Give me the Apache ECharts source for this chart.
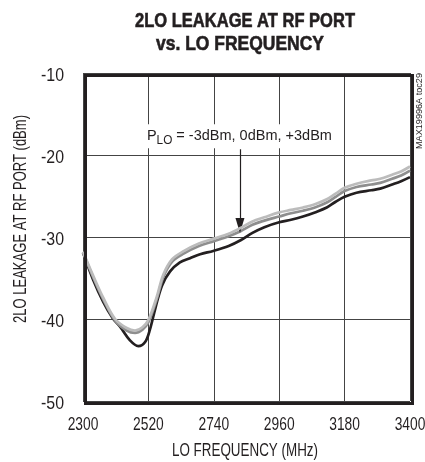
<!DOCTYPE html>
<html>
<head>
<meta charset="utf-8">
<script src="https://cdn.jsdelivr.net/npm/echarts@6/dist/echarts.min.js"></script>
<style>
html,body{margin:0;padding:0;background:#fff;}
#c{width:425px;height:462px;}
</style>
</head>
<body>
<div id="c"></div>
<script>
// ---- data ----
const xTicks = [2300, 2520, 2740, 2960, 3180, 3400];
const yTicks = [-50, -40, -30, -20, -10];

const freqBlack = [2300,2334,2368,2400,2424,2458,2486,2509,2525,2544,2566,2593,2626,2660,2694,2738,2790,2830,2870,2910,2960,3000,3040,3080,3120,3150,3180,3220,3270,3300,3340,3370,3400];
const leakBlack = [-31.9,-35.2,-37.9,-39.9,-40.9,-42.6,-43.3,-42.8,-41.3,-38.6,-35.9,-34.2,-33.1,-32.6,-32.1,-31.7,-31.1,-30.4,-29.5,-28.8,-28.2,-27.9,-27.5,-27.0,-26.4,-25.7,-25.1,-24.6,-24.3,-24.1,-23.6,-23.2,-22.7];

const freqGray = [2300,2334,2368,2408,2447,2475,2500,2520,2548,2570,2600,2640,2690,2740,2790,2830,2870,2910,2960,3000,3040,3080,3120,3150,3180,3220,3270,3300,3340,3370,3400];
const leakDark = [-31.9,-34.9,-37.6,-40.2,-41.4,-41.7,-41.3,-40.4,-37.6,-34.9,-33.0,-32.0,-31.1,-30.5,-29.9,-29.3,-28.5,-28.0,-27.5,-27.1,-26.8,-26.4,-25.8,-25.1,-24.4,-23.9,-23.6,-23.4,-22.9,-22.5,-21.9];
const leakLight = [-31.8,-34.7,-37.4,-40.0,-41.1,-41.4,-41.0,-40.1,-37.3,-34.6,-32.7,-31.7,-30.8,-30.2,-29.6,-28.9,-28.1,-27.6,-27.0,-26.7,-26.4,-26.0,-25.4,-24.7,-24.0,-23.5,-23.1,-22.9,-22.4,-22.0,-21.4];

const arrowFreq = 2828;
const arrowFrom = -19.3;
const arrowTo = -28.6;
const noteAnchor = [2515, -17.7];   // left / middle of the P_LO note
// ---------------------------------------

const FAMILY = "'Liberation Sans', Arial, sans-serif";
const INK = '#231f20';
const zip = (xs, ys) => xs.map((x, i) => [x, ys[i]]);

const mctx = document.createElement('canvas').getContext('2d');
function tw(text, size, weight) {
  mctx.font = (weight || 'normal') + ' ' + size + 'px ' + FAMILY;
  return mctx.measureText(text).width;
}
function tStyle(text, size, weight, extra) {
  return Object.assign({text: text, fontSize: size, fontFamily: FAMILY,
    fontWeight: weight || 'normal', fill: INK, verticalAlign: 'middle'}, extra || {});
}
// condensed-looking text: scale measured width to target width
function cText(text, x, y, size, target, opts) {
  opts = opts || {};
  const w = tw(text, size, opts.weight);
  const extra = {align: opts.align || 'center'};
  if (opts.stroke) { extra.stroke = INK; extra.lineWidth = opts.stroke; }
  return {
    type: 'text', x: x, y: y, rotation: opts.rotation || 0,
    scaleX: target / w, scaleY: 1, z: 200, silent: true,
    style: tStyle(text, size, opts.weight, extra)
  };
}

const chart = echarts.init(document.getElementById('c'), null, {renderer: 'canvas'});
chart.setOption({
  animation: false,
  grid: {left: 83, right: 15, top: 73, bottom: 61, show: false},
  xAxis: {
    type: 'value', min: xTicks[0], max: xTicks[xTicks.length-1], interval: xTicks[1]-xTicks[0],
    axisLine: {show: false}, axisTick: {show: false}, axisLabel: {show: false},
    splitLine: {show: true, lineStyle: {color: '#444', width: 1}}
  },
  yAxis: {
    type: 'value', min: yTicks[0], max: yTicks[yTicks.length-1], interval: yTicks[1]-yTicks[0],
    axisLine: {show: false}, axisTick: {show: false}, axisLabel: {show: false},
    splitLine: {show: true, lineStyle: {color: '#444', width: 1}}
  },
  series: [
    {name: '-3dBm', type: 'line', data: zip(freqBlack, leakBlack), smooth: 0.35, symbol: 'none',
     lineStyle: {color: INK, width: 2.7}, z: 3},
    {name: '0dBm', type: 'line', data: zip(freqGray, leakDark), smooth: 0.35, symbol: 'none',
     lineStyle: {color: '#8e8e8e', width: 2.7}, z: 4},
    {name: '+3dBm', type: 'line', data: zip(freqGray, leakLight), smooth: 0.35, symbol: 'none',
     lineStyle: {color: '#bcbcbc', width: 2.7}, z: 5,
     markLine: {
       silent: true, symbol: ['none', 'triangle'], symbolSize: [9, 15],
       lineStyle: {color: INK, width: 1.2, type: 'solid'},
       label: {show: false},
       data: [[{coord: [arrowFreq, arrowFrom]}, {coord: [arrowFreq, arrowTo]}]]
     }}
  ]
});

// texts placed with the chart's own scales
const px = v => chart.convertToPixel({gridIndex: 0}, v);
const g = [];
g.push({type: 'rect', left: 83, top: 73, shape: {width: 327, height: 328},
  style: {fill: 'none', stroke: INK, lineWidth: 3}, z: 150, silent: true});

xTicks.forEach(t => {
  const p = px([t, yTicks[0]]);
  g.push(cText(String(t), p[0], 424.5, 18.5, 30.7));
});
yTicks.forEach(t => {
  const p = px([xTicks[0], t]);
  g.push(cText(String(t), 64, p[1] + 2.5, 18.5, 23, {align: 'right'}));
});

// title
g.push(cText('2LO LEAKAGE AT RF PORT', 245, 21, 20, 220, {weight: 'bold', stroke: 0.6}));
g.push(cText('vs. LO FREQUENCY', 240, 44.8, 20, 168, {weight: 'bold', stroke: 0.6}));
// axis names
g.push(cText('LO FREQUENCY (MHz)', 245, 451, 18.5, 146));
g.push(cText('2LO LEAKAGE AT RF PORT (dBm)', 21, 219, 17.5, 208, {rotation: Math.PI / 2}));
// figure id
g.push(cText('MAX19996A toc29', 420, 111, 9, 76, {rotation: Math.PI / 2}));

// P_LO note
(function () {
  const a = px(noteAnchor);
  const s1 = 15.4, s2 = 12.5;
  const rest = ' = -3dBm, 0dBm, +3dBm';
  const wP = tw('P', s1), wL = tw('LO', s2), wR = tw(rest, s1);
  const total = wP + wL + wR;
  const sc = 185 / total;
  g.push({type: 'rect', x: a[0], y: a[1], scaleX: sc, z: 180, silent: true,
    shape: {x: -4, y: -12, width: total + 8, height: 24}, style: {fill: '#fff'}});
  g.push({type: 'text', x: a[0], y: a[1], scaleX: sc, z: 181, silent: true,
    style: tStyle('P', s1)});
  g.push({type: 'text', x: a[0] + wP * sc, y: a[1] + 4.3, scaleX: sc, z: 181, silent: true,
    style: tStyle('LO', s2)});
  g.push({type: 'text', x: a[0] + (wP + wL) * sc, y: a[1], scaleX: sc, z: 181, silent: true,
    style: tStyle(rest, s1)});
})();

chart.setOption({graphic: g});
</script>
</body>
</html>
